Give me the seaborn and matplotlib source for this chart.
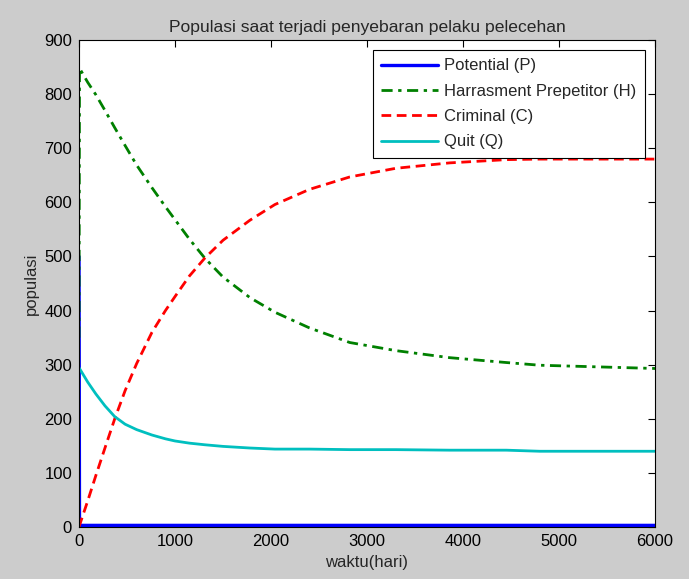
import matplotlib
matplotlib.use("Agg")
import matplotlib.pyplot as plt
import seaborn as sns

# values
waktu = [0, 5, 90, 175, 270, 372, 480, 600, 760, 900, 1000, 1150, 1310,
         1500, 1780, 2040, 2400, 2820, 3300, 3860, 4450, 4800, 5400, 6000]
potential = [500, 3, 3, 3, 3, 3, 3, 3, 3, 3, 3, 3, 3,
             3, 3, 3, 3, 3, 3, 3, 3, 3, 3, 3]
harrasment = [350, 848, 822, 799, 770, 738, 705, 669, 627, 592, 568, 532, 497,
              462, 424, 397, 368, 341, 326, 313, 304, 299, 296, 293]
criminal = [0, 3, 48, 95, 146, 200, 252, 302, 360, 400, 426, 464, 497,
            530, 567, 596, 624, 647, 663, 673, 679, 680, 680, 680]
quit_ = [294, 293, 268, 246, 224, 204, 190, 180, 170, 163, 159, 155, 152,
         149, 146, 144, 144, 143, 143, 142, 142, 140, 140, 140]

sns.set_style("white")
plt.rcParams['font.family'] = ['Liberation Sans', 'DejaVu Sans']

fig = plt.figure(figsize=(6.89, 5.79), dpi=100, facecolor='#cccccc')
ax = fig.add_axes([0.1147, 0.0898, 0.836, 0.841])

sns.lineplot(x=waktu, y=potential, ax=ax, color='#0000ff', lw=2.4,
             label='Potential (P)')
sns.lineplot(x=waktu, y=harrasment, ax=ax, color='#008000', lw=2,
             linestyle=(0, (4, 2, 1.2, 2)), label='Harrasment Prepetitor (H)')
sns.lineplot(x=waktu, y=criminal, ax=ax, color='#ff0000', lw=2,
             linestyle=(0, (3.5, 2)), label='Criminal (C)')
sns.lineplot(x=waktu, y=quit_, ax=ax, color='#00bfbf', lw=2,
             label='Quit (Q)')

ax.set_xlim(0, 6000)
ax.set_ylim(0, 900)
ax.set_xticks(range(0, 6001, 1000))
ax.set_yticks(range(0, 901, 100))
ax.tick_params(direction='in', top=True, right=True, length=5, width=0.8,
               labelsize=12, colors='black', pad=5)
for s in ax.spines.values():
    s.set_color('black')
    s.set_linewidth(0.8)

ax.set_xlabel('waktu(hari)', fontsize=12)
ax.set_ylabel('populasi', fontsize=12)
ax.set_title('Populasi saat terjadi penyebaran pelaku pelecehan', fontsize=12.6)

leg = ax.legend(loc='upper right', fontsize=12, frameon=True, fancybox=False,
                edgecolor='black', framealpha=1, handlelength=3.4,
                handletextpad=0.4, borderaxespad=0.6, borderpad=0.5,
                labelspacing=0.62)
leg.get_frame().set_linewidth(0.8)

fig.savefig('out.png', dpi=100, facecolor=fig.get_facecolor())
